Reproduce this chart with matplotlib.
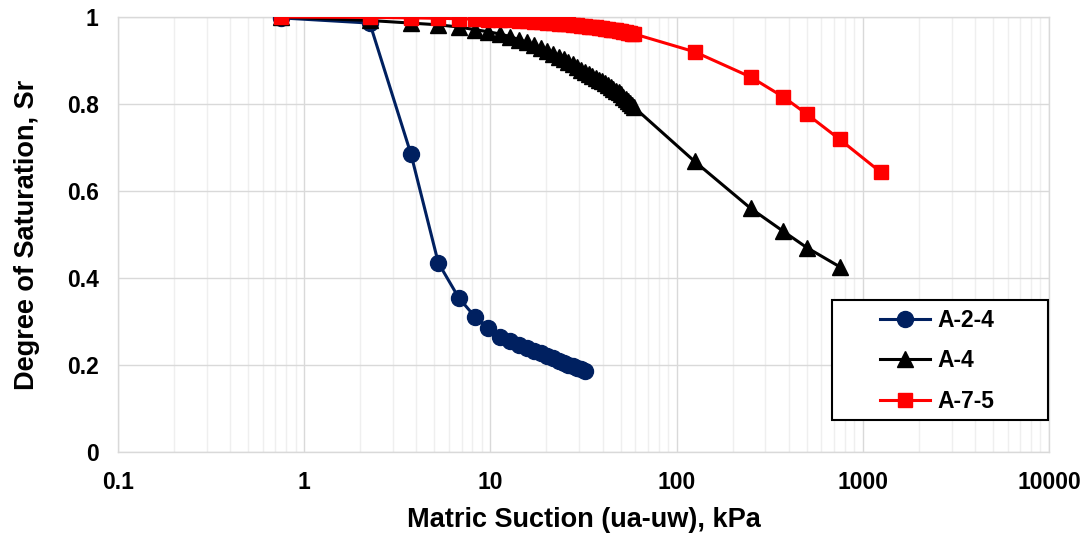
import matplotlib
matplotlib.use("Agg")
import matplotlib.pyplot as plt
from matplotlib.ticker import LogLocator, FixedLocator, NullFormatter
from matplotlib.patches import Rectangle

plt.rcParams['font.family'] = ['Liberation Sans', 'DejaVu Sans']
plt.rcParams['font.weight'] = 'bold'

# ---- data ----
suction_a24 = [0.75, 2.25, 3.75, 5.25, 6.75, 8.25, 9.75, 11.25, 12.75, 14.25, 15.75,
               17.25, 18.75, 20.25, 21.75, 23.25, 24.75, 26.25, 27.75, 29.25, 30.75, 32.25]
sr_a24 = [0.998, 0.986, 0.684, 0.435, 0.355, 0.311, 0.286, 0.265, 0.255, 0.247, 0.240,
          0.233, 0.227, 0.221, 0.215, 0.210, 0.205, 0.201, 0.197, 0.193, 0.190, 0.187]

suction_a4 = [0.75, 2.25, 3.75, 5.25, 6.75, 8.25, 9.75, 11.25, 12.75, 14.25, 15.75,
              17.25, 18.75, 20.25, 21.75, 23.25, 24.75, 26.25, 27.75, 29.25, 30.75,
              32.25, 33.75, 35.25, 36.75, 38.25, 39.75, 41.25, 42.75, 44.25, 45.75,
              47.25, 48.75, 50.25, 51.75, 53.25, 54.75, 56.25, 57.75, 59.25,
              125, 250, 375, 500, 750]
sr_a4 = [1.000, 0.992, 0.986, 0.982, 0.977, 0.971, 0.966, 0.961, 0.955, 0.948, 0.942,
         0.935, 0.929, 0.922, 0.916, 0.909, 0.903, 0.897, 0.891, 0.885, 0.879,
         0.874, 0.869, 0.864, 0.860, 0.856, 0.852, 0.848, 0.844, 0.839, 0.835,
         0.831, 0.827, 0.822, 0.817, 0.812, 0.807, 0.802, 0.797, 0.792,
         0.668, 0.560, 0.507, 0.470, 0.426]

suction_a75 = [0.75, 2.25, 3.75, 5.25, 6.75, 8.25, 9.75, 11.25, 12.75, 14.25, 15.75,
               17.25, 18.75, 20.25, 21.75, 23.25, 24.75, 26.25, 27.75, 29.25, 30.75,
               32.25, 33.75, 35.25, 36.75, 38.25, 39.75, 41.25, 42.75, 44.25, 45.75,
               47.25, 48.75, 50.25, 51.75, 53.25, 54.75, 56.25, 57.75, 59.25,
               125, 250, 375, 500, 750, 1250]
sr_a75 = [1.000, 0.999, 0.998, 0.997, 0.996, 0.995, 0.994, 0.993, 0.992, 0.991, 0.990,
          0.989, 0.988, 0.987, 0.986, 0.985, 0.984, 0.983, 0.982, 0.981, 0.980,
          0.979, 0.978, 0.977, 0.976, 0.975, 0.974, 0.973, 0.972, 0.971, 0.970,
          0.969, 0.968, 0.967, 0.966, 0.965, 0.964, 0.963, 0.962, 0.961,
          0.920, 0.862, 0.816, 0.777, 0.719, 0.643]

series_names = ['A-2-4', 'A-4', 'A-7-5']
x_ticks = [0.1, 1, 10, 100, 1000, 10000]
x_tick_labels = ['0.1', '1', '10', '100', '1000', '10000']
y_ticks = [0, 0.2, 0.4, 0.6, 0.8, 1.0]
y_tick_labels = ['0', '0.2', '0.4', '0.6', '0.8', '1']

# ---- figure ----
W, H = 1087, 538
fig = plt.figure(figsize=(W / 100, H / 100), dpi=100)
ax = fig.add_axes([118 / W, (H - 452) / H, (1049 - 118) / W, (452 - 17) / H])

ax.plot(suction_a24, sr_a24, color='#002060', marker='o', markersize=11.5,
        linewidth=2.2, label=series_names[0], zorder=3)
ax.plot(suction_a4, sr_a4, color='black', marker='^', markersize=11,
        linewidth=2.2, label=series_names[1], zorder=4)
ax.plot(suction_a75, sr_a75, color='#ff0000', marker='s', markersize=10,
        linewidth=2.2, label=series_names[2], zorder=5)

ax.set_xscale('log')
ax.set_xlim(0.1, 10000)
ax.set_ylim(0, 1)
ax.xaxis.set_major_locator(FixedLocator(x_ticks))
ax.set_xticklabels(x_tick_labels)
ax.xaxis.set_minor_locator(LogLocator(base=10, subs=range(2, 10), numticks=100))
ax.xaxis.set_minor_formatter(NullFormatter())
ax.set_yticks(y_ticks)
ax.set_yticklabels(y_tick_labels)

ax.grid(which='major', color='#d9d9d9', linewidth=1.0, zorder=0)
ax.grid(which='minor', axis='x', color='#efefef', linewidth=1.0, zorder=0)
ax.set_axisbelow(True)
for s in ax.spines.values():
    s.set_color('#d9d9d9')
    s.set_linewidth(1.0)
ax.tick_params(which='both', length=0, labelsize=16.5)
ax.tick_params(axis='y', pad=14)
ax.tick_params(axis='x', pad=14)
for lab in ax.get_xticklabels() + ax.get_yticklabels():
    lab.set_fontweight('bold')

ax.set_xlabel('Matric Suction (ua-uw), kPa', fontsize=19.5, fontweight='bold', labelpad=9)
ax.set_ylabel('Degree of Saturation, Sr', fontsize=19.5, fontweight='bold', labelpad=19)

# legend: box drawn as a rectangle, entries placed inside
box = Rectangle((832 / W, (H - 420) / H), (1048 - 832) / W, 120 / H,
                transform=fig.transFigure, facecolor='white', edgecolor='black',
                linewidth=1.5, zorder=10, clip_on=False)
ax.add_patch(box)
leg = ax.legend(loc='upper left', bbox_to_anchor=(880 / W, (H - 309) / H),
                bbox_transform=fig.transFigure, fontsize=16.5, frameon=False,
                borderpad=0, labelspacing=0.76, handlelength=2.2, handletextpad=0.3,
                borderaxespad=0)
leg.set_zorder(11)
for t in leg.get_texts():
    t.set_fontweight('bold')

fig.savefig('out.png', dpi=100)
